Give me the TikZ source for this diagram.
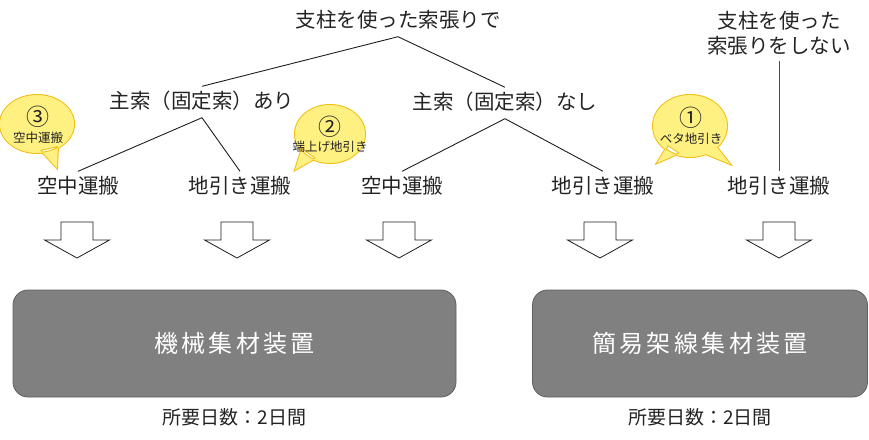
\documentclass[tikz,border=0pt]{standalone}
\usepackage{fontspec}
\usepackage{xcolor}
\usepackage{tikz}
\usetikzlibrary{positioning}
\newfontfamily\jpfont{Noto Sans CJK JP}
\newfontfamily\jpwide[LetterSpace=14]{Noto Sans CJK JP}

\definecolor{inkgray}{RGB}{35,35,35}
\definecolor{linegray}{RGB}{30,30,30}
\definecolor{boxgray}{RGB}{128,128,128}
\definecolor{boxedge}{RGB}{95,95,95}
\definecolor{bubyellow}{RGB}{255,240,130}
\definecolor{bubborder}{RGB}{242,190,20}

\tikzset{
	lblfont/.style={font={\jpfont\fontsize{20.5}{25}\selectfont}, text=inkgray, inner sep=6pt},
	lbl/.style={lblfont, text height=16pt, text depth=3pt},
	branch/.style={draw=linegray, line width=0.9pt},
	machine/.style={draw=boxedge, line width=0.8pt, fill=boxgray, rounded corners=15pt,
		minimum height=107pt, text=white, font={\jpwide\fontsize{24}{28}\selectfont}},
	days/.style={font={\jpfont\fontsize{19}{22}\selectfont}, text=inkgray, inner sep=2pt,
		text height=14pt, text depth=3pt},
	blockarrow/.style={draw=linegray, line width=0.8pt, fill=white},
	bubedge/.style={draw=bubborder, line width=2pt},
	bubfill/.style={fill=bubyellow},
	bubnum/.style={font={\jpfont\fontsize{23}{25}\selectfont}, text=inkgray, inner sep=0pt},
	bubtxt/.style={font={\jpfont\fontsize{12.5}{14}\selectfont}, text=inkgray, inner sep=0pt}
}

\begin{document}
\begin{tikzpicture}[x=1pt, y=-1pt]
	\useasboundingbox (0,0) rectangle (869,439);

	% Upper labels
	\node[lbl] (top) at (398,21) {支柱を使った索張りで};
	\node[lbl] (ari) at (202,102) {主索（固定索）あり};
	\node[lbl] (nashi) at (505,103) {主索（固定索）なし};
	\node[lblfont, align=center] (nouse) at (779,33) {支柱を使った\\索張りをしない};

	% Transport methods
	\node[lbl] (kuchu1) at (78,187) {空中運搬};
	\node[lbl] (jibiki1) at (240,187) {地引き運搬};
	\node[lbl] (kuchu2) at (402,187) {空中運搬};
	\node[lbl] (jibiki2) at (603,187) {地引き運搬};
	\node[lbl] (jibiki3) at (779,187) {地引き運搬};

	% Branches
	\draw[branch] (top.south) -- (ari.north);
	\draw[branch] (top.south) -- (nashi.north);
	\draw[branch] (ari.south) -- (kuchu1.north);
	\draw[branch] (ari.south) -- (jibiki1.north);
	\draw[branch] (nashi.south) -- (kuchu2.north);
	\draw[branch] (nashi.south) -- (jibiki2.north);
	\draw[branch, draw=black!70] (nouse.south) -- (jibiki3.north);

	% Speech bubbles
	\foreach \s in {bubedge,bubfill}{
		\path[\s] (37,124) ellipse [x radius=37, y radius=29] (40,150) -- (57,168) -- (58,146) -- cycle;
		\path[\s] (330,134) ellipse [x radius=35, y radius=29] (302,148) -- (295,170) -- (316,158) -- cycle;
		\path[\s] (690,126) ellipse [x radius=37, y radius=31] (668,145) -- (657,163) -- (680,153) -- cycle;
		\path[\s] (703,153) -- (730,164) -- (716,146) -- cycle;
	}
	\node[bubnum] (num3) at (38,117) {③};
	\node[bubtxt] (txt3) at (38,138) {空中運搬};
	\node[bubnum] (num2) at (330,127) {②};
	\node[bubtxt] (txt2) at (330,147) {端上げ地引き};
	\node[bubnum] (num1) at (691,118) {①};
	\node[bubtxt] (txt1) at (691,139) {ベタ地引き};

	% Block arrows
	\foreach \x in {77,237,399,600,779}
		\draw[blockarrow] (\x-16,222) -- (\x+16,222) -- (\x+16,240) -- (\x+32.5,240) -- (\x,258)
			-- (\x-32.5,240) -- (\x-16,240) -- cycle;

	% Yarding machines
	\node[machine, minimum width=443pt] (kikai) at (234.5,343.5) {機械集材装置};
	\node[machine, minimum width=335pt] (kani) at (700,343.5) {簡易架線集材装置};
	\node[days, below=11pt of kikai] (days1) {所要日数：2日間};
	\node[days, below=11pt of kani] (days2) {所要日数：2日間};
\end{tikzpicture}
\end{document}
